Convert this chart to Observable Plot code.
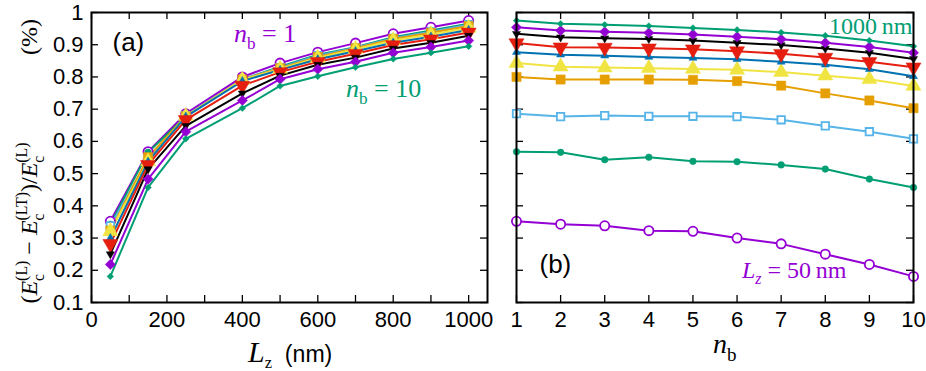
<!DOCTYPE html>
<html><head><meta charset="utf-8">
<script src="https://cdn.jsdelivr.net/npm/d3@7"></script>
<script src="https://cdn.jsdelivr.net/npm/@observablehq/plot@0.6"></script>
<style>
body{margin:0;background:#fff;}
#wrap{position:relative;width:926px;height:371px;overflow:hidden;background:#fff;}
#wrap svg{position:absolute;top:0;}
</style></head><body><div id="wrap"></div>
<script>
// ---- data ----
const lzValues = [50, 150, 250, 400, 500, 600, 700, 800, 900, 1000];
const nbValues = [1, 2, 3, 4, 5, 6, 7, 8, 9, 10];
// relative difference vs n_b, one array per L_z
const lz50   = [0.352, 0.343, 0.338, 0.323, 0.321, 0.300, 0.282, 0.250, 0.218, 0.181];
const lz150  = [0.568, 0.566, 0.543, 0.551, 0.538, 0.537, 0.527, 0.514, 0.483, 0.457];
const lz250  = [0.686, 0.677, 0.680, 0.678, 0.678, 0.677, 0.667, 0.648, 0.630, 0.608];
const lz400  = [0.800, 0.792, 0.792, 0.792, 0.791, 0.787, 0.773, 0.749, 0.727, 0.703];
const lz500  = [0.843, 0.832, 0.829, 0.827, 0.825, 0.822, 0.815, 0.804, 0.793, 0.772];
const lz600  = [0.877, 0.869, 0.866, 0.862, 0.859, 0.855, 0.847, 0.838, 0.824, 0.802];
const lz700  = [0.905, 0.892, 0.891, 0.889, 0.886, 0.880, 0.872, 0.860, 0.847, 0.830];
const lz800  = [0.934, 0.923, 0.920, 0.918, 0.913, 0.906, 0.899, 0.888, 0.875, 0.856];
const lz900  = [0.954, 0.944, 0.940, 0.937, 0.932, 0.925, 0.917, 0.906, 0.893, 0.875];
const lz1000 = [0.975, 0.965, 0.962, 0.958, 0.952, 0.946, 0.938, 0.928, 0.913, 0.895];
const yTicks = [0.1, 0.2, 0.3, 0.4, 0.5, 0.6, 0.7, 0.8, 0.9, 1];
const xTicksA = [0, 100, 200, 300, 400, 500, 600, 700, 800, 900, 1000];
const xLabelsA = [0, 200, 400, 600, 800, 1000];
const xTicksB = [1, 2, 3, 4, 5, 6, 7, 8, 9, 10];

// ---- styles (per series index) ----
const colors  = ["#9400D3", "#009E73", "#56B4E9", "#E69F00", "#F0E442", "#0072B2", "#E51E10", "#000000", "#9400D3", "#009E73"];
const symbols = ["circle", "circle", "square", "square", "triangle", "triangle", "triangle", "triangle", "diamond2", "diamond2"];
const filled  = [false, true, false, true, true, true, true, true, true, true];
const rots    = [0, 0, 0, 0, 0, 0, 180, 180, 0, 0];
const radii   = [4.6, 3.3, 4.2, 5.2, 5.6, 3.0, 5.6, 3.0, 4.6, 3.0];

const matrix = [lz50, lz150, lz250, lz400, lz500, lz600, lz700, lz800, lz900, lz1000];
const rows = [];
matrix.forEach((arr, i) => arr.forEach((v, j) => rows.push({lz: lzValues[i], nb: nbValues[j], v, i, j})));

const H = 371, MT = 12, MB = 69;
const innerH = H - MT - MB;
const FONT = "Liberation Sans, Arial, sans-serif";
const SERIF = "Liberation Serif, Times New Roman, serif";

function seriesMarks(key, xField) {
  const marks = [];
  for (let k = 0; k < 10; k++) {
    const d = rows.filter(r => r[key] === k);
    marks.push(Plot.line(d, {x: xField, y: "v", stroke: colors[k], strokeWidth: 2}));
  }
  for (let k = 0; k < 10; k++) {
    const d = rows.filter(r => r[key] === k);
    marks.push(Plot.dot(d, {x: xField, y: "v", symbol: symbols[k], r: radii[k], rotate: rots[k],
      fill: filled[k] ? colors[k] : "white", stroke: colors[k], strokeWidth: filled[k] ? 0.5 : 1.8}));
  }
  return marks;
}

function tickMarks(xt, innerW) {
  const L = 7;
  return [
    Plot.tickX(xt, {x: d => d, insetBottom: innerH - L, stroke: "black", strokeWidth: 1.3}),
    Plot.tickX(xt, {x: d => d, insetTop: innerH - L, stroke: "black", strokeWidth: 1.3}),
    Plot.tickY(yTicks, {y: d => d, insetRight: innerW - L, stroke: "black", strokeWidth: 1.3}),
    Plot.tickY(yTicks, {y: d => d, insetLeft: innerW - L, stroke: "black", strokeWidth: 1.3})
  ];
}

// ---- panel (a) ----
const WA = 500, MLA = 91, MRA = 13;
const plotA = Plot.plot({
  width: WA, height: H, marginLeft: MLA, marginRight: MRA, marginTop: MT, marginBottom: MB,
  style: {fontFamily: FONT, fontSize: "22px", color: "black", background: "transparent"},
  x: {domain: [0, 1050]},
  y: {domain: [0.1, 1]},
  marks: [
    ...tickMarks(xTicksA, WA - MLA - MRA),
    Plot.axisX(xLabelsA, {tickSize: 0, tickPadding: 9, label: null, fontSize: 22, tickFormat: d => String(d)}),
    Plot.axisY(yTicks, {tickSize: 0, tickPadding: 8, label: null, fontSize: 22, tickFormat: d => String(d)}),
    ...seriesMarks("j", "lz"),
    Plot.text(["(a)"], {frameAnchor: "top-left", dx: 21, dy: 38, text: d => d, textAnchor: "start", lineAnchor: "bottom", fontSize: 26, fontFamily: FONT, fill: "black"}),
    Plot.frame({stroke: "black", strokeWidth: 2})
  ]
});

// ---- panel (b) ----
const WB = 426, MLB = 16, MRB = 13;
const plotB = Plot.plot({
  width: WB, height: H, marginLeft: MLB, marginRight: MRB, marginTop: MT, marginBottom: MB,
  style: {fontFamily: FONT, fontSize: "22px", color: "black", background: "transparent"},
  x: {domain: [1, 10]},
  y: {domain: [0.1, 1], axis: null},
  marks: [
    ...tickMarks(xTicksB, WB - MLB - MRB),
    Plot.axisX(xTicksB, {tickSize: 0, tickPadding: 9, label: null, fontSize: 22, tickFormat: d => String(d)}),
    ...seriesMarks("i", "nb"),
    Plot.text(["(b)"], {frameAnchor: "bottom-left", dx: 23, dy: -30, text: d => d, textAnchor: "start", lineAnchor: "bottom", fontSize: 26, fontFamily: FONT, fill: "black"}),
    Plot.frame({stroke: "black", strokeWidth: 2})
  ]
});

const wrap = document.getElementById("wrap");
plotA.style.left = "0px";
plotB.style.left = WA + "px";
wrap.appendChild(plotA);
wrap.appendChild(plotB);

// ---- rich text helper (sub/superscripts) ----
function richText(svgNode, {x, y, anchor = "start", size, family = SERIF, fill = "black", transform, parts}) {
  const t = d3.select(svgNode).append("text")
    .attr("x", x).attr("y", y).attr("text-anchor", anchor)
    .attr("font-size", size).attr("font-family", family).attr("fill", fill);
  if (transform) t.attr("transform", transform);
  let cur = 0, lastLen = 0, pending = 0;
  for (const p of parts) {
    const scale = p.scale || 1;
    const shift = (p.shift || 0) * size;
    const s = t.append("tspan").text(p.text)
      .attr("dy", shift - cur).attr("font-size", size * scale);
    cur = shift;
    if (p.italic) s.attr("font-style", "italic");
    if (p.family) s.attr("font-family", p.family);
    let dx = 0;
    if (p.back) dx -= lastLen;
    if (!p.back && pending) { dx += pending; pending = 0; }
    if (dx) s.attr("dx", dx);
    const len = s.node().getComputedTextLength();
    if (p.back) pending = Math.max(0, lastLen - len);
    lastLen = len;
  }
  return t;
}
const sup = (text) => ({text, scale: 0.66, shift: -0.42});
const sub = (text, extra = {}) => ({text, scale: 0.66, shift: 0.28, back: true, ...extra});

// panel (a) annotations
richText(plotA, {x: 234, y: 42, size: 26, fill: colors[0], parts: [
  {text: "n", italic: true}, {text: "b", scale: 0.66, shift: 0.25}, {text: " = 1", shift: 0}]});
richText(plotA, {x: 346, y: 97, size: 26, fill: colors[9], parts: [
  {text: "n", italic: true}, {text: "b", scale: 0.66, shift: 0.25}, {text: " = 10", shift: 0}]});

// y-axis title
const yt = "rotate(-90)";
richText(plotA, {x: -223, y: 37, anchor: "middle", size: 24, transform: yt, parts: [
  {text: "("}, {text: "E", italic: true}, sup("(L)"), sub("c"),
  {text: " − "}, {text: "E", italic: true}, sup("(LT)"), sub("c"),
  {text: ")/"}, {text: "E", italic: true}, sup("(L)"), sub("c")]});
richText(plotA, {x: -37, y: 37, anchor: "middle", size: 24, transform: yt, parts: [{text: "(%)"}]});

// x-axis title (a)
richText(plotA, {x: 248, y: 362, size: 30, parts: [
  {text: "L", italic: true}, {text: "z", scale: 0.55, shift: 0.2},
  {text: "  (nm)", shift: 0, family: FONT, scale: 0.77}]});

// panel (b) annotations
richText(plotB, {x: 829 - WA, y: 34, size: 24, fill: colors[9], parts: [{text: "1000\u2009nm"}]});
richText(plotB, {x: 742 - WA, y: 278, size: 24, fill: colors[0], parts: [
  {text: "L", italic: true}, {text: "z", italic: true, scale: 0.66, shift: 0.25}, {text: " = 50\u2009nm", shift: 0}]});
richText(plotB, {x: 713 - WA, y: 353, size: 28, parts: [
  {text: "n", italic: true}, {text: "b", scale: 0.68, shift: 0.28}]});
</script>
</body></html>
